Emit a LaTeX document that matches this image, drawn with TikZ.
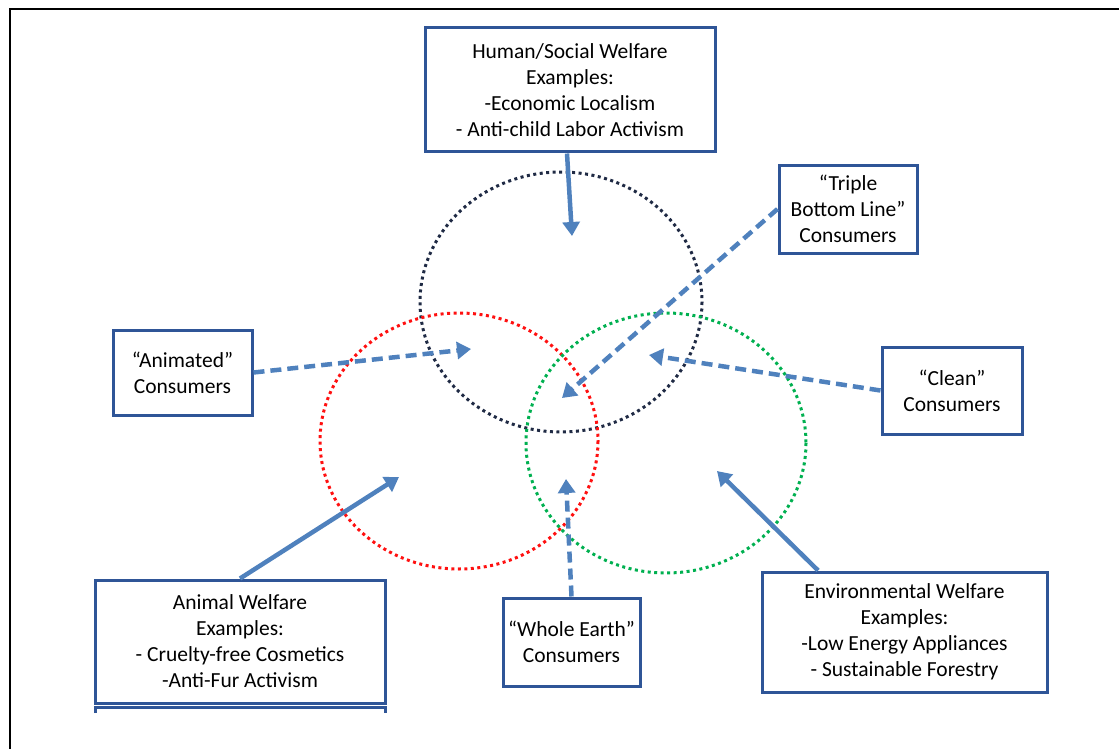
\documentclass[tikz,border=0pt]{standalone}
\usepackage{fontspec}
\setmainfont{Carlito}
\usetikzlibrary{arrows.meta,calc}
\definecolor{boxblue}{HTML}{2F5597}
\definecolor{arrowblue}{HTML}{4F81BD}
\definecolor{navyring}{HTML}{1F2A44}
\definecolor{redring}{HTML}{FF1010}
\definecolor{greenring}{HTML}{00B050}
\tikzset{
  infobox/.style={draw=boxblue, line width=3pt, fill=white, align=center,
    inner sep=0pt, font=\fontsize{21.5}{26}\selectfont},
  ring/.style={line width=3pt, dash pattern=on 3pt off 3.5pt},
  solidarrow/.style={draw=arrowblue, line width=4.5pt,
    -{Triangle[length=14pt,width=17pt]}},
  dasharrow/.style={draw=arrowblue, line width=4.5pt, dash pattern=on 11pt off 6pt,
    -{Triangle[length=14pt,width=17pt]}},
}
\begin{document}
\begin{tikzpicture}[x=1pt,y=-1pt]
\useasboundingbox (0,0) rectangle (1119,749);
% page frame
\draw[line width=2.5pt, black] (10,749) -- (10,9) -- (1119,9);

% overlapping welfare circles
\draw[ring, navyring] (561,302) ellipse [x radius=141, y radius=130];
\draw[ring, redring] (459,441) ellipse [x radius=139, y radius=128];
\draw[ring, greenring] (666,443) ellipse [x radius=140, y radius=130];

% category and consumer boxes
\node[infobox, minimum width=290pt, minimum height=124pt] (human) at (570,90)
  {Human/Social Welfare\\Examples:\\-Economic Localism\\- Anti-child Labor Activism};
\node[infobox, minimum width=138pt, minimum height=88pt] (triple) at (848,209)
  {“Triple\\Bottom Line”\\Consumers};
\node[infobox, minimum width=139pt, minimum height=85pt] (animated) at (182.5,372.5)
  {“Animated”\\Consumers};
\node[infobox, minimum width=140pt, minimum height=87pt] (clean) at (952,390.5)
  {“Clean”\\Consumers};
% strip of a second box peeking out below the animal box
\draw[boxblue, line width=3pt] (95,713) -- (95,707) -- (385,707) -- (385,713);
\node[infobox, minimum width=290pt, minimum height=123pt] (animal) at (240,641.5)
  {Animal Welfare\\Examples:\\- Cruelty-free Cosmetics\\-Anti-Fur Activism};
\node[infobox, minimum width=137pt, minimum height=88pt] (whole) at (571.5,642)
  {“Whole Earth”\\Consumers};
\node[infobox, minimum width=285pt, minimum height=120pt] (env) at (904.5,632)
  {Environmental Welfare\\Examples:\\-Low Energy Appliances\\- Sustainable Forestry};

% arrow tips
\coordinate (humanTip) at (572,236);
\coordinate (tripleTip) at (562,398);
\coordinate (animatedTip) at (471,349);
\coordinate (cleanTip) at (649,355);
\coordinate (animalTip) at (399,477);
\coordinate (wholeTip) at (566,479);
\coordinate (envTip) at (717,471);

% connectors
\draw[solidarrow] ($(human.south)+(-3,0)$) -- (humanTip);
\draw[dasharrow] (triple.west) -- (tripleTip);
\draw[dasharrow] (animated.east) -- (animatedTip);
\draw[dasharrow] (clean.west) -- (cleanTip);
\draw[solidarrow] (animal.north) -- (animalTip);
\draw[dasharrow] (whole.north) -- (wholeTip);
\draw[solidarrow] ($(env.north west)!0.2!(env.north east)$) -- (envTip);
\end{tikzpicture}
\end{document}
